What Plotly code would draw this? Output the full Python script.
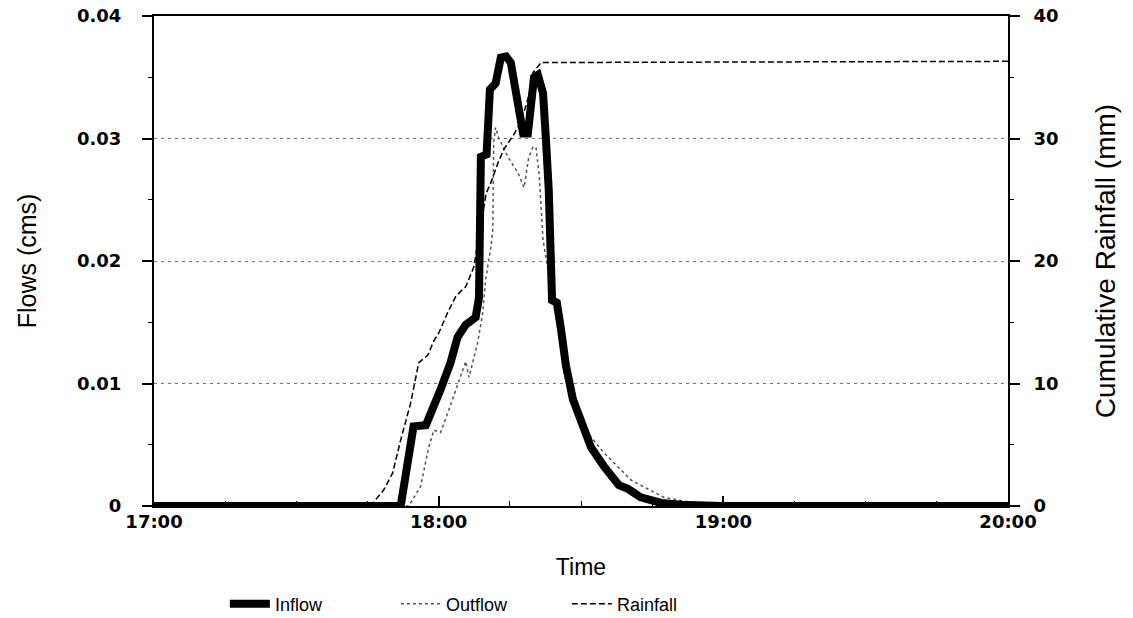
import plotly.graph_objects as go

# ---- data (minutes after 17:00) ----
time_tick_labels = ["17:00", "18:00", "19:00", "20:00"]
time_tick_minutes = [0, 60, 120, 180]

inflow_t = [0, 52, 54.7, 57.3, 60.4, 62.5, 64, 65.7, 67.8, 68.5, 68.9, 70.1, 70.8, 72,
            73.1, 74.2, 75.2, 76.7, 77.8, 78.8, 80.1, 80.9, 82, 82.6, 83.2, 83.9, 84.9,
            85.8, 86.8, 88.3, 90, 92.1, 94.9, 98, 99.9, 102.6, 106.9, 111.1, 119.6, 180]
inflow_q = [0, 0, 0.0065, 0.0066, 0.0095, 0.0117, 0.0138, 0.0148, 0.0154, 0.0170, 0.0285,
            0.0287, 0.0340, 0.0345, 0.0366, 0.0367, 0.0362, 0.0331, 0.0304, 0.0304, 0.0350,
            0.0352, 0.0337, 0.0300, 0.0258, 0.0168, 0.0166, 0.0144, 0.0115, 0.0087, 0.0068,
            0.0048, 0.0032, 0.0017, 0.0014, 0.0007, 0.00025, 0.0001, 0, 0]

outflow_t = [0, 53.7, 56.2, 57.9, 59, 60.4, 62.1, 64, 65.1, 65.7, 66.4, 67.2, 68.2, 69.3,
             69.9, 71, 71.4, 71.6, 72, 72.6, 74.6, 76.7, 78, 79, 79.9, 80.5, 81.2, 82,
             83, 84, 86, 88, 90, 92, 94.7, 100.6, 107.5, 114.7, 125, 180]
outflow_q = [0, 0, 0.0016, 0.0048, 0.0062, 0.0060, 0.0078, 0.0100, 0.0111, 0.0118, 0.0105,
             0.0117, 0.0133, 0.0158, 0.0185, 0.0211, 0.0225, 0.0297, 0.0309, 0.0301, 0.0285,
             0.0272, 0.0260, 0.0285, 0.0293, 0.0293, 0.0270, 0.0217, 0.0195, 0.0170, 0.0135,
             0.0098, 0.0075, 0.0057, 0.0044, 0.0021, 0.0007, 0.0002, 0.00003, 0]

rain_t = [0, 45.6, 48.4, 50.3, 52, 54.1, 55.8, 57.7, 59, 60, 61.9, 63.6, 64.6, 65.7, 67.4,
          69, 70, 71, 72.5, 73.7, 75.8, 77.5, 79, 79.9, 81.6, 180]
rain_mm = [0, 0, 1.3, 2.7, 5.4, 8.4, 11.7, 12.3, 13.5, 14.1, 15.8, 17.1, 17.5, 17.9, 19.5,
           23.0, 25.5, 26.4, 28.0, 29.1, 30.3, 31.5, 33.5, 35.4, 36.2, 36.3]

flow_ticks = [0, 0.01, 0.02, 0.03, 0.04]
flow_tick_labels = ["0", "0.01", "0.02", "0.03", "0.04"]
rain_ticks = [0, 10, 20, 30, 40]

TICKFONT = dict(family="DejaVu Sans", size=18, color="black", weight="bold")

fig = go.Figure()
fig.add_trace(go.Scatter(x=rain_t, y=rain_mm, yaxis="y2", name="Rainfall", mode="lines",
                         line=dict(color="black", width=1.5, dash="6px,3px")))
fig.add_trace(go.Scatter(x=outflow_t, y=outflow_q, name="Outflow", mode="lines",
                         line=dict(color="#555555", width=1.5, dash="dot")))
fig.add_trace(go.Scatter(x=inflow_t, y=inflow_q, name="Inflow", mode="lines",
                         line=dict(color="black", width=8)))

fig.update_layout(
    width=1133, height=618,
    margin=dict(l=154, r=125, t=16, b=112, autoexpand=False),
    paper_bgcolor="white", plot_bgcolor="white",
    showlegend=True,
    legend=dict(orientation="h", x=0.083, xanchor="left", y=-0.2, yanchor="middle",
                traceorder="reversed", entrywidth=116, entrywidthmode="pixels",
                itemwidth=40,
                font=dict(family="Liberation Sans", size=18, color="black")),
    xaxis=dict(range=[0, 180], tickvals=time_tick_minutes, ticktext=time_tick_labels,
               ticks="inside", ticklen=10, tickwidth=2, tickcolor="black",
               minor=dict(dtick=15, ticks="inside", ticklen=5, tickwidth=1, tickcolor="black"),
               showline=True, linewidth=2, linecolor="black", mirror=True,
               showgrid=False, zeroline=False, tickfont=TICKFONT, ticklabelstandoff=-2,
               automargin=False,
               title=dict(text="Time", standoff=28,
                          font=dict(family="Liberation Sans", size=23, color="black"))),
    yaxis=dict(range=[0, 0.04], tickvals=flow_ticks, ticktext=flow_tick_labels,
               ticks="outside", ticklen=10, tickwidth=2, tickcolor="black",
               minor=dict(dtick=0.005, ticks="outside", ticklen=4, tickwidth=1,
                          tickcolor="black", showgrid=False),
               showline=True, linewidth=2, linecolor="black",
               showgrid=True, gridcolor="#777777", gridwidth=1, griddash="3px,4px",
               zeroline=False, tickfont=TICKFONT, ticklabelstandoff=17, automargin=False,
               title=dict(text="Flows (cms)", standoff=33,
                          font=dict(family="Liberation Sans", size=25, color="black"))),
    yaxis2=dict(range=[0, 40], tickvals=rain_ticks, overlaying="y", side="right",
                ticks="outside", ticklen=10, tickwidth=2, tickcolor="black",
                minor=dict(dtick=5, ticks="outside", ticklen=4, tickwidth=1, tickcolor="black"),
                showline=True, linewidth=2, linecolor="black",
                showgrid=False, zeroline=False, tickfont=TICKFONT, ticklabelstandoff=10,
                automargin=False,
                title=dict(text="Cumulative Rainfall (mm)", standoff=38,
                           font=dict(family="Liberation Sans", size=28, color="black"))),
)

fig.write_html("out.html")
